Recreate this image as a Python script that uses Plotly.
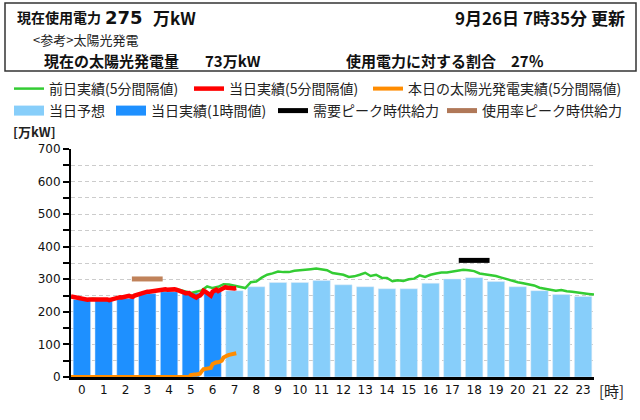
import plotly.graph_objects as go

# hourly bars
hours = list(range(24))
actual_hours = [0, 1, 2, 3, 4, 5, 6]
actual_hourly = [238, 235, 242, 256, 262, 258, 262]
forecast_hours = [7, 8, 9, 10, 11, 12, 13, 14, 15, 16, 17, 18, 19, 20, 21, 22, 23]
forecast_hourly = [265, 277, 290, 290, 296, 283, 277, 271, 271, 288, 301, 305, 293, 277, 265, 253, 247]

# supply capacity markers
demand_peak_hour = [18]
demand_peak_supply = [358]
rate_peak_hour = [3]
rate_peak_supply = [301]

# previous day, 15 minute samples (minutes from 0:00)
prev_minutes = list(range(0, 1441, 15))
prev_day = [246, 244, 240, 237,
            240, 239, 238, 236,
            240, 244, 247, 249,
            252, 258, 262, 264,
            265, 267, 268, 269,
            267, 262, 258, 262,
            266, 278, 273, 277,
            285, 284, 280, 276,
            273, 291, 293, 305,
            314, 318, 324, 322,
            322, 326, 327, 329,
            331, 333, 331, 328,
            319, 317, 314, 307,
            309, 314, 320, 310,
            314, 305, 304, 294,
            297, 295, 300, 302,
            312, 307, 314, 318,
            321, 321, 324, 328,
            329, 328, 325, 318,
            316, 314, 310, 305,
            300, 294, 291, 288,
            285, 281, 274, 271,
            267, 265, 267, 263,
            262, 259, 256, 255,
            253]

# today, 5 minute samples up to 7:35
today_minutes = list(range(0, 460, 5))
today = [247, 246, 245, 244, 243, 241, 240, 238, 236, 237, 238, 238,
         239, 239, 240, 238, 239, 238, 237, 239, 238, 236, 238, 239,
         240, 242, 243, 245, 244, 246, 247, 248, 249, 247, 246, 250,
         252, 254, 256, 258, 259, 261, 262, 262, 263, 264, 263, 265,
         266, 267, 266, 268, 269, 268, 269, 268, 270, 269, 268, 266,
         267, 264, 260, 257, 256, 258, 253, 250, 247, 244, 248, 250,
         256, 265, 262, 258, 254, 250, 262, 266, 268, 264, 268, 272,
         275, 276, 274, 273, 275, 274, 272, 273]
solar = [0, 0, 0, 0, 0, 0, 0, 0, 0, 0, 0, 0,
         0, 0, 0, 0, 0, 0, 0, 0, 0, 0, 0, 0,
         0, 0, 0, 0, 0, 0, 0, 0, 0, 0, 0, 0,
         0, 0, 0, 0, 0, 0, 0, 0, 0, 0, 0, 0,
         0, 0, 0, 0, 0, 0, 0, 0, 0, 0, 0, 0,
         0, 0, 0, 0, 0, 0, 6, 8, 8, 8, 8, 10,
         18, 24, 25, 25, 26, 28, 40, 44, 45, 45, 46, 50,
         60, 64, 66, 68, 69, 70, 72, 73]

JP = "Noto Sans CJK JP"
NUM = "DejaVu Sans"

# plot area in pixels
L, R, T, B = 71, 594, 149, 377
def px(x):
    return (x - L) / (R - L)
def py(y):
    return (B - y) / (B - T)

fig = go.Figure()

fig.add_trace(go.Bar(x=forecast_hours, y=forecast_hourly, marker_color="#87CEFA",
                     showlegend=False))
fig.add_trace(go.Bar(x=actual_hours, y=actual_hourly, marker_color="#1E90FF",
                     showlegend=False))

fig.add_trace(go.Scatter(x=prev_minutes, y=prev_day, xaxis="x2", mode="lines",
                         line=dict(color="#33CC33", width=2.5),
                         name="前日実績(5分間隔値)", legend="legend"))
fig.add_trace(go.Scatter(x=today_minutes, y=today, xaxis="x2", mode="lines",
                         line=dict(color="#FF0000", width=4.5),
                         name="当日実績(5分間隔値)", legend="legend2"))
fig.add_trace(go.Scatter(x=today_minutes, y=solar, xaxis="x2", mode="lines",
                         line=dict(color="#FF8C00", width=4),
                         name="本日の太陽光発電実績(5分間隔値)", legend="legend3"))

fig.add_trace(go.Scatter(x=demand_peak_hour, y=demand_peak_supply, mode="markers",
                         marker=dict(symbol="line-ew", size=22, line=dict(color="black", width=5)),
                         showlegend=False))
fig.add_trace(go.Scatter(x=rate_peak_hour, y=rate_peak_supply, mode="markers",
                         marker=dict(symbol="line-ew", size=22, line=dict(color="#C0825A", width=5)),
                         showlegend=False))

# legend-only entries for second row
for nm, col, w, lg in [("当日予想", "#87CEFA", 10, "legend4"), ("当日実績(1時間値)", "#1E90FF", 10, "legend5"),
                       ("需要ピーク時供給力", "black", 5, "legend6"), ("使用率ピーク時供給力", "#B07858", 5, "legend7")]:
    fig.add_trace(go.Scatter(x=[None], y=[None], mode="lines", name=nm,
                             line=dict(color=col, width=w), legend=lg))

def legend_at(x, y):
    return dict(orientation="h", xref="container", yref="container",
                x=x / 640, y=1 - y / 420, xanchor="left", yanchor="middle",
                font=dict(family=JP, size=14, color="#222"), bgcolor="rgba(0,0,0,0)")

fig.update_layout(
    width=640, height=420,
    margin=dict(l=L, r=640 - R, t=T, b=420 - B, autoexpand=False),
    plot_bgcolor="white", paper_bgcolor="white",
    barmode="overlay", bargap=0.2,
    font=dict(family=JP, size=13, color="#111"),
    legend=legend_at(9, 89), legend2=legend_at(189, 89), legend3=legend_at(368, 89),
    legend4=legend_at(9, 111), legend5=legend_at(111, 111),
    legend6=legend_at(273, 111), legend7=legend_at(442, 111),
    xaxis=dict(range=[-0.5, 23.5], tickmode="array", tickvals=hours, ticks="",
               showline=True, linecolor="black", linewidth=3, showgrid=False, zeroline=False,
               tickfont=dict(family=NUM, size=12, color="#111")),
    xaxis2=dict(range=[0, 1440], overlaying="x", visible=False),
    yaxis=dict(range=[0, 700], dtick=100, ticks="outside", ticklen=6, tickwidth=2, tickcolor="black",
               showline=True, linecolor="black", linewidth=2, zeroline=False,
               gridcolor="#CCCCCC", griddash="4px,3px", gridwidth=1,
               minor=dict(dtick=50, ticks="outside", ticklen=6, tickwidth=2, tickcolor="black",
                          showgrid=True, gridcolor="#CCCCCC", griddash="4px,3px"),
               tickfont=dict(family=NUM, size=12, color="#111")),
)

# header box
fig.add_shape(type="rect", xref="paper", yref="paper", x0=px(5), x1=px(636), y0=py(71), y1=py(3),
              line=dict(color="#333", width=1.5))

def note(text, x, y, anchor="left", size=14, family=JP, color="#111"):
    fig.add_annotation(text=text, x=px(x), y=py(y), xref="paper", yref="paper",
                       xanchor=anchor, yanchor="middle", showarrow=False,
                       font=dict(family=family, size=size, color=color))

note("<b>現在使用電力</b>", 15, 17, size=14)
note("<b>275</b>", 103, 17, size=18, family=NUM)
note("<b>万kW</b>", 151, 17, size=17)
note("<b>9月26日 7時35分 更新</b>", 627, 17, anchor="right", size=17)
note("&lt;参考&gt;太陽光発電", 31, 40, size=13, color="#222")
note("<b>現在の太陽光発電量</b>", 42, 60, size=15)
note("<b>73万kW</b>", 203, 60, size=15)
note("<b>使用電力に対する割合　27％</b>", 344, 60, size=15)
note("<b>[万kW]</b>", 11, 131, size=13, color="#222")
note("[時]", 597, 390, size=15, color="#222")

fig.write_html("out.html", config={"displayModeBar": False},
               post_script="document.body.style.margin='0';")
